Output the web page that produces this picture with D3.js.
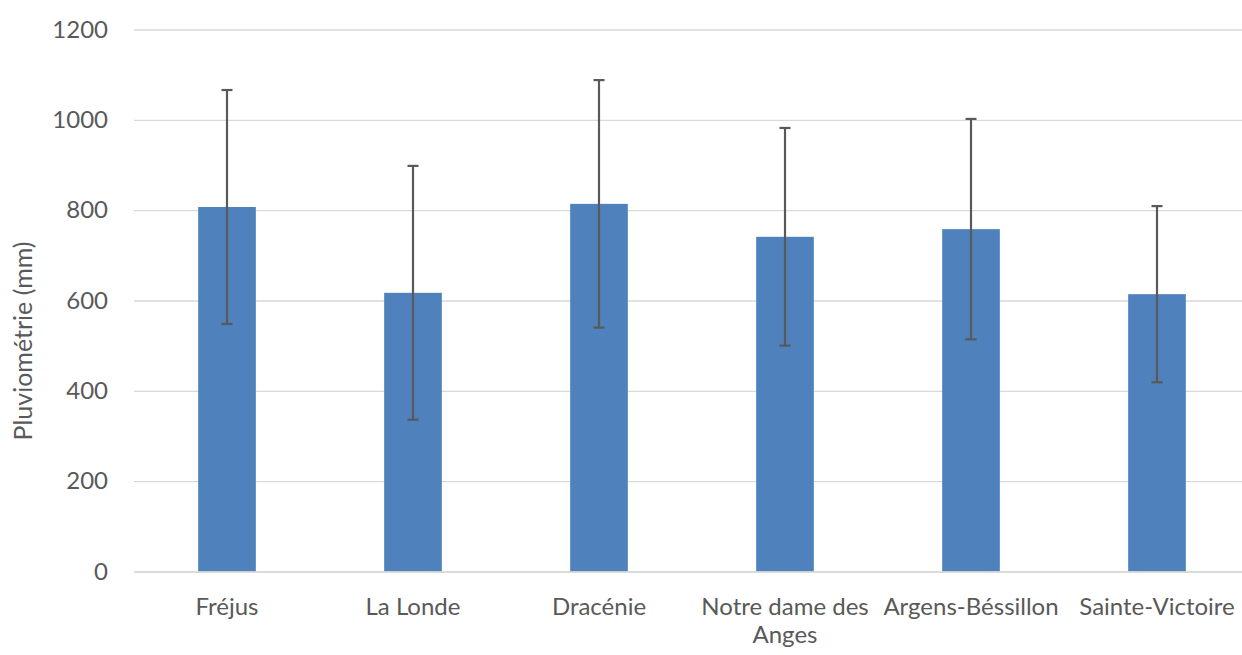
<!DOCTYPE html>
<html><head><meta charset="utf-8">
<script src="https://cdn.jsdelivr.net/npm/d3@7"></script>
<style>
html,body{margin:0;padding:0;background:#fff;}
text{font-family:Lato,"Open Sans",sans-serif;fill:#595959;}
</style></head>
<body><svg id="c" width="1242" height="655"></svg>
<script>
const categories = ["Fréjus","La Londe","Dracénie","Notre dame des Anges","Argens-Béssillon","Sainte-Victoire"];
const means = [807, 617, 814, 741, 758, 614];
const errors = [259, 281, 274, 241, 244, 195];
const yTicks = [0, 200, 400, 600, 800, 1000, 1200];
const yTitle = "Pluviométrie (mm)";

const svg = d3.select("#c");
const mLeft = 134, mRight = 1250, mTop = 29.5, mBottom = 571.5;
const x = d3.scaleBand().domain(categories).range([mLeft, mRight]).paddingInner(0.69).paddingOuter(0.345);
const y = d3.scaleLinear().domain([0, 1200]).range([mBottom, mTop]);

// gridlines
const gy = svg.append("g").attr("transform", `translate(${mLeft},0)`)
  .call(d3.axisLeft(y).tickValues(yTicks).tickFormat(d3.format("d")).tickSize(-(mRight-mLeft)).tickPadding(26));
gy.select(".domain").remove();
gy.selectAll(".tick line").attr("stroke", "#d9d9d9").attr("stroke-width", 1.3);
gy.selectAll(".tick text").style("font-size", "24px").attr("fill", "#595959");

const data = categories.map((c,i)=>({c, m: means[i], e: errors[i]}));

svg.append("g").selectAll("rect").data(data).join("rect")
  .attr("x", d=>x(d.c)).attr("width", x.bandwidth())
  .attr("y", d=>y(d.m)).attr("height", d=>y(0)-y(d.m))
  .attr("fill", "#4F81BD");

// axis line
const gx = svg.append("g").attr("transform", `translate(0,${mBottom})`)
  .call(d3.axisBottom(x).tickSize(0).tickPadding(26));
gx.select(".domain").attr("stroke", "#d9d9d9").attr("stroke-width", 1.5);
gx.selectAll(".tick text").style("font-size", "24px").attr("fill", "#595959")
  .each(function(){ wrap(d3.select(this), 186); });

function wrap(t, w){
  const words = t.text().split(/\s+/);
  t.text(null);
  let line = [], lineNo = 0;
  const yv = t.attr("y"), dy = parseFloat(t.attr("dy"));
  let ts = t.append("tspan").attr("x",0).attr("y",yv).attr("dy", dy+"em");
  for (const wd of words){
    line.push(wd);
    ts.text(line.join(" "));
    if (ts.node().getComputedTextLength() > w && line.length>1){
      line.pop(); ts.text(line.join(" "));
      line=[wd]; lineNo++;
      ts = t.append("tspan").attr("x",0).attr("y",yv).attr("dy", (lineNo*1.17+dy)+"em").text(wd);
    }
  }
}

// error bars
const eb = svg.append("g").attr("stroke", "#595959").attr("stroke-width", 2.2);
data.forEach(d=>{
  const cx = x(d.c) + x.bandwidth()/2;
  eb.append("line").attr("x1",cx).attr("x2",cx).attr("y1",y(d.m+d.e)).attr("y2",y(d.m-d.e));
  eb.append("line").attr("x1",cx-5.5).attr("x2",cx+5.5).attr("y1",y(d.m+d.e)).attr("y2",y(d.m+d.e));
  eb.append("line").attr("x1",cx-5.5).attr("x2",cx+5.5).attr("y1",y(d.m-d.e)).attr("y2",y(d.m-d.e));
});

svg.append("text").attr("transform", "translate(32,341) rotate(-90)")
  .attr("text-anchor","middle").style("font-size","25px").text(yTitle);
</script></body></html>
